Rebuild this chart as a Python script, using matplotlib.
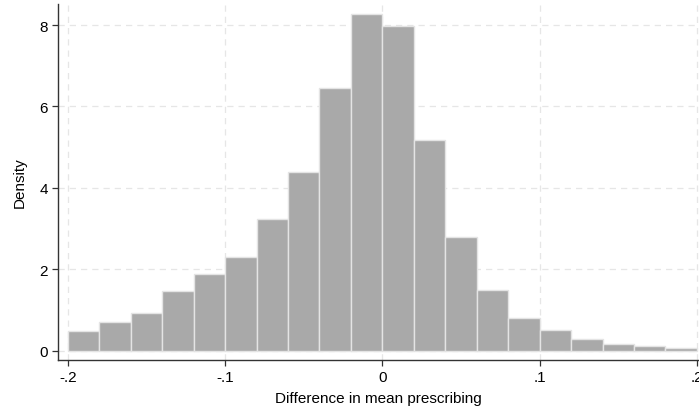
import numpy as np
import matplotlib
matplotlib.use('Agg')
import matplotlib.pyplot as plt

plt.rcParams['font.family'] = ['Liberation Sans', 'DejaVu Sans']

# histogram bins (width .02) and densities
bin_edges = [-0.20, -0.18, -0.16, -0.14, -0.12, -0.10, -0.08, -0.06, -0.04, -0.02,
             0.00, 0.02, 0.04, 0.06, 0.08, 0.10, 0.12, 0.14, 0.16, 0.18, 0.20]
density = [0.49, 0.71, 0.92, 1.46, 1.89, 2.31, 3.24, 4.39, 6.46, 8.27,
           7.97, 5.18, 2.79, 1.49, 0.81, 0.50, 0.28, 0.17, 0.12, 0.07]

xticks = [-0.2, -0.1, 0.0, 0.1, 0.2]
xticklabels = ['-.2', '-.1', '0', '.1', '.2']
yticks = [0, 2, 4, 6, 8]

fig = plt.figure(figsize=(6.99, 4.10), dpi=100)
ax = fig.add_axes([0.0825, 0.1195, 1.0 - 0.0825, 0.988 - 0.1195])

left = np.array(bin_edges[:-1])
widths = np.diff(bin_edges)
ax.bar(left, density, width=widths, align='edge', color='#a9a9a9',
       edgecolor='#e4e4e4', linewidth=1.0, zorder=2)

ax.set_xlim(-0.2064, 0.2013)
ax.set_ylim(-0.228, 8.52)
ax.set_xticks(xticks)
ax.set_xticklabels(xticklabels)
ax.set_yticks(yticks)

ax.grid(True, color='#e6e6e6', linestyle=(0, (5, 4)), linewidth=0.9, zorder=0)
ax.set_axisbelow(True)

for s in ['top', 'right']:
    ax.spines[s].set_visible(False)
for s in ['left', 'bottom']:
    ax.spines[s].set_color('#333333')
    ax.spines[s].set_linewidth(1.0)

ax.tick_params(axis='both', direction='out', length=4, width=0.9,
               color='#333333', labelsize=11, pad=3)
ax.set_xlabel('Difference in mean prescribing', fontsize=11, labelpad=5)
ax.set_ylabel('Density', fontsize=11, labelpad=9)

fig.savefig('out.png', dpi=100)
